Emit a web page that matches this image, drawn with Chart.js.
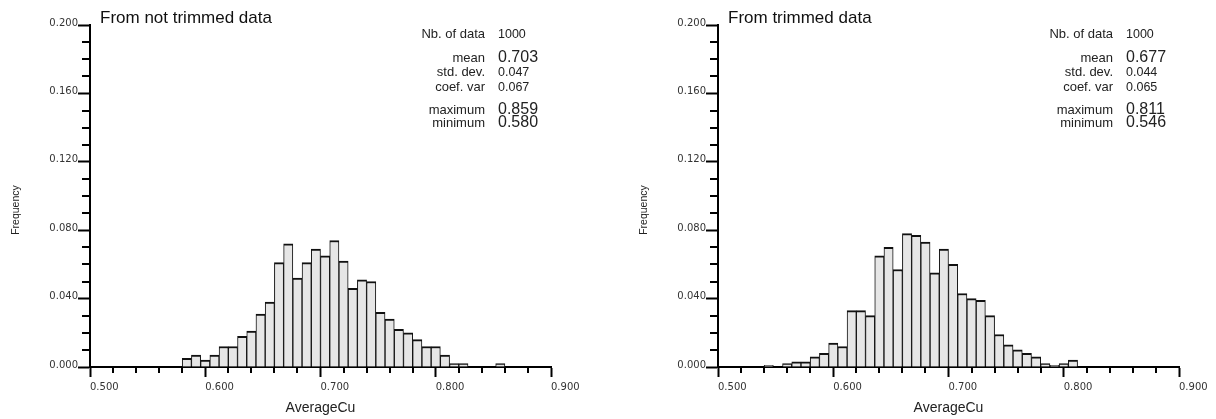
<!DOCTYPE html>
<html><head><meta charset="utf-8">
<script src="https://cdn.jsdelivr.net/npm/chart.js@4/dist/chart.umd.min.js"></script>
<style>
html,body{margin:0;padding:0;background:#fff;width:1216px;height:419px;overflow:hidden}
#c1{position:absolute;left:0;top:0}
#c2{position:absolute;left:628px;top:0}
</style></head><body>
<canvas id="c1" width="608" height="419"></canvas>
<canvas id="c2" width="588" height="419"></canvas>
<script>
// Histogram bin centres (bin width 0.008 from 0.500 to 0.900)
const binCenters = [0.504,0.512,0.520,0.528,0.536,0.544,0.552,0.560,0.568,0.576,
  0.584,0.592,0.600,0.608,0.616,0.624,0.632,0.640,0.648,0.656,
  0.664,0.672,0.680,0.688,0.696,0.704,0.712,0.720,0.728,0.736,
  0.744,0.752,0.760,0.768,0.776,0.784,0.792,0.800,0.808,0.816,
  0.824,0.832,0.840,0.848,0.856,0.864,0.872,0.880,0.888,0.896];

const freqNotTrimmed = [0,0,0,0,0,0,0,0,0,0,
  0.005,0.007,0.004,0.007,0.012,0.012,0.018,0.021,0.031,0.038,
  0.061,0.072,0.052,0.061,0.069,0.065,0.074,0.062,0.046,0.051,
  0.050,0.032,0.028,0.022,0.020,0.016,0.012,0.012,0.007,0.002,
  0.002,0,0,0,0.002,0,0,0,0,0];

const freqTrimmed = [0,0,0,0,0,0.001,0,0.002,0.003,0.003,
  0.006,0.008,0.014,0.012,0.033,0.033,0.030,0.065,0.070,0.057,
  0.078,0.077,0.073,0.055,0.069,0.060,0.043,0.040,0.039,0.030,
  0.019,0.013,0.010,0.008,0.006,0.002,0.001,0.002,0.004,0,
  0,0,0,0,0,0,0,0,0,0];

const titleNotTrimmed = 'From not trimmed data';
const titleTrimmed = 'From trimmed data';
const statLabels = ['Nb. of data','mean','std. dev.','coef. var','maximum','minimum'];
const statsNotTrimmed = ['1000','0.703','0.047','0.067','0.859','0.580'];
const statsTrimmed = ['1000','0.677','0.044','0.065','0.811','0.546'];
const xAxisTitle = 'AverageCu';
const yAxisTitle = 'Frequency';

const SANS = '"Liberation Sans", Arial, sans-serif';
const TICKF = '"DejaVu Sans", sans-serif';
const isMajorX = v => Math.abs(Math.round(v * 1000) % 100) === 0;
const isMajorY = v => Math.abs(Math.round(v * 1000) % 40) === 0;

const statBaselines = [38, 62, 76, 90.5, 114, 127];
const statValueSizes = [12.5, 16, 12.5, 12.5, 16, 16];

function makeOverlay(title, stats) {
  return {
    id: 'overlay',
    afterDraw(chart) {
      const ctx = chart.ctx;
      const xs = chart.scales.x, ys = chart.scales.y;
      const area = chart.chartArea;
      ctx.save();
      ctx.strokeStyle = '#000';
      ctx.lineWidth = 2;
      ctx.beginPath();
      xs.ticks.forEach(t => {
        if (!isMajorX(t.value)) {
          const px = Math.round(xs.getPixelForValue(t.value));
          ctx.moveTo(px, area.bottom);
          ctx.lineTo(px, area.bottom + 6);
        }
      });
      ys.ticks.forEach(t => {
        if (!isMajorY(t.value)) {
          const py = Math.round(ys.getPixelForValue(t.value));
          ctx.moveTo(area.left - 8, py);
          ctx.lineTo(area.left, py);
        }
      });
      ctx.stroke();

      // title
      ctx.fillStyle = '#111';
      ctx.textBaseline = 'alphabetic';
      ctx.textAlign = 'left';
      ctx.font = '17px ' + SANS;
      ctx.fillText(title, area.left + 10, 22.7);

      // stats
      for (let i = 0; i < statLabels.length; i++) {
        ctx.textAlign = 'right';
        ctx.font = '13px ' + SANS;
        ctx.fillStyle = '#222';
        ctx.fillText(statLabels[i], 485, statBaselines[i]);
        ctx.textAlign = 'left';
        ctx.font = statValueSizes[i] + 'px ' + SANS;
        ctx.fillText(stats[i], 498, statBaselines[i]);
      }

      // y axis title
      ctx.save();
      ctx.translate(16, 210);
      ctx.rotate(-Math.PI / 2);
      ctx.textAlign = 'center';
      ctx.textBaseline = 'middle';
      ctx.font = '10.5px ' + SANS;
      ctx.fillStyle = '#222';
      ctx.fillText(yAxisTitle, 0, 0);
      ctx.restore();
      ctx.restore();
    }
  };
}

function makeChart(id, values, title, stats, rightPad) {
  const data = binCenters.map((x, i) => ({x: x, y: values[i]})).filter(p => p.y > 0);
  return new Chart(document.getElementById(id), {
    type: 'bar',
    data: {
      datasets: [{
        data: data,
        backgroundColor: '#e6e6e6',
        borderColor: '#111',
        borderWidth: {top: 2, left: 1, right: 1, bottom: 0},
        borderSkipped: 'start',
        barPercentage: 1,
        categoryPercentage: 1
      }]
    },
    options: {
      responsive: false,
      animation: false,
      events: [],
      layout: {padding: {left: 0, top: 25, right: rightPad, bottom: 0}},
      plugins: {legend: {display: false}, tooltip: {enabled: false}},
      scales: {
        x: {
          type: 'linear', min: 0.5, max: 0.9, offset: false, z: 1,
          ticks: {
            stepSize: 0.02, autoSkip: false, maxRotation: 0, minRotation: 0,
            align: 'start', padding: 4, color: '#333',
            font: {family: TICKF, size: 10},
            callback: v => isMajorX(v) ? Number(v).toFixed(3) : ''
          },
          grid: {
            offset: false,
            drawOnChartArea: false, drawTicks: true, tickLength: 10, tickWidth: 2,
            tickColor: c => (c.tick && isMajorX(c.tick.value)) ? '#000' : 'rgba(0,0,0,0)'
          },
          border: {display: true, color: '#000', width: 2},
          title: {display: true, text: xAxisTitle, color: '#222',
                  font: {family: SANS, size: 14}, padding: {top: 0, bottom: 2}},
          afterFit: s => { s.height = 52; }
        },
        y: {
          type: 'linear', min: 0, max: 0.2, z: 1,
          ticks: {
            stepSize: 0.01, autoSkip: false, padding: 0, labelOffset: -2, color: '#333',
            font: {family: TICKF, size: 10},
            callback: v => isMajorY(v) ? Number(v).toFixed(3) : ''
          },
          grid: {
            offset: false,
            drawOnChartArea: false, drawTicks: true, tickLength: 12, tickWidth: 2,
            tickColor: c => (c.tick && isMajorY(c.tick.value)) ? '#000' : 'rgba(0,0,0,0)'
          },
          border: {display: true, color: '#000', width: 2},
          afterFit: s => { s.width = 90; }
        }
      }
    },
    plugins: [makeOverlay(title, stats)]
  });
}

makeChart('c1', freqNotTrimmed, titleNotTrimmed, statsNotTrimmed, 608 - 551);
makeChart('c2', freqTrimmed, titleTrimmed, statsTrimmed, 588 - 551);
</script>
</body></html>
